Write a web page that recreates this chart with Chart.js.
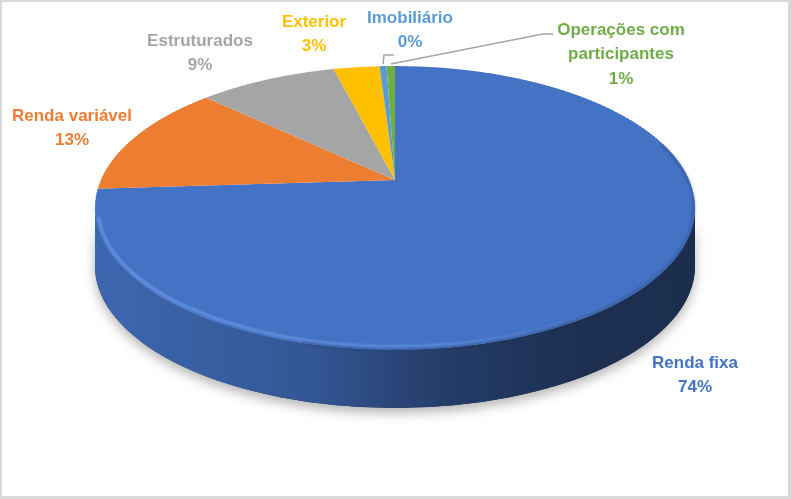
<!DOCTYPE html>
<html>
<head>
<meta charset="utf-8">
<script src="https://cdn.jsdelivr.net/npm/chart.js@4.4.1/dist/chart.umd.min.js"></script>
<style>
  html, body { margin: 0; padding: 0; background: #fff; }
  #wrap { position: relative; width: 791px; height: 499px; }
  #frame { position: absolute; left: 0; top: 0; width: 791px; height: 499px; box-sizing: border-box;
           border: 2px solid #d9d9d9; border-right-width: 3px; border-bottom-width: 3px; pointer-events: none; }
</style>
</head>
<body>
<div id="wrap">
  <canvas id="carteira" width="791" height="499"></canvas>
  <div id="frame"></div>
</div>
<script>
const categorias = ['Renda fixa', 'Renda variável', 'Estruturados', 'Exterior', 'Imobiliário', 'Operações com participantes'];
const valores = [74, 13, 9, 3, 0.45, 0.55];
const cores = ['#4472c4', '#ed7d31', '#a5a5a5', '#ffc000', '#5b9bd5', '#70ad47'];

// disco 3D (px na tela): contorno elíptico, centro do disco puxado para cima pela perspectiva
const disco = { cx: 395, cy: 208, rx: 300, ry: 142, desloc: 28, altura: 58 };
// posição dos rótulos (centro da 1a linha) e cotovelo das guias
const rotulos = [
  { x: 695, y: 363 },
  { x: 72, y: 116 },
  { x: 200, y: 41 },
  { x: 314, y: 22 },
  { x: 410, y: 18, guia: [[384, 55], [394, 55]] },
  { x: 621, y: 30, guia: [[543, 34], [553, 34]] }
];

// perspectiva: (u,v) do círculo unitário -> tela
const persp = (() => {
  const B = disco.ry, k = -disco.desloc / disco.ry, C = B * k;
  const A = disco.rx * Math.sqrt(1 - k * k);
  return {
    A, B, C, k,
    ponto(t) {
      const u = Math.cos(t), v = Math.sin(t), w = 1 + k * v;
      return [disco.cx + A * u / w, disco.cy + (B * v + C) / w];
    },
    vDeY(yr) { return (C - yr) / (yr * k - B); }
  };
})();

function anguloTela(t) {
  const p = persp.ponto(t);
  return Math.atan2((p[1] - disco.cy) / disco.ry, (p[0] - disco.cx) / disco.rx);
}

function escurecer(hex, f) {
  const n = parseInt(hex.slice(1), 16);
  const r = Math.round(((n >> 16) & 255) * f);
  const g = Math.round(((n >> 8) & 255) * f);
  const b = Math.round((n & 255) * f);
  return 'rgb(' + r + ',' + g + ',' + b + ')';
}

function quebrar(ctx, texto, largura) {
  const palavras = texto.split(' ');
  const linhas = [];
  let atual = '';
  palavras.forEach(p => {
    const teste = atual ? atual + ' ' + p : p;
    if (atual && ctx.measureText(teste).width > largura) {
      linhas.push(atual);
      atual = p;
    } else {
      atual = teste;
    }
  });
  linhas.push(atual);
  return linhas;
}

const pizza3d = {
  id: 'pizza3d',
  beforeDatasetsDraw(chart) {
    const ctx = chart.ctx;
    const arcos = chart.getDatasetMeta(0).data;
    const { x, y, outerRadius: r } = arcos[0];
    const { cx, cy, rx, ry, altura } = disco;

    // sombra da parede lateral
    ctx.save();
    ctx.shadowColor = 'rgba(0,0,0,0.3)';
    ctx.shadowBlur = 12;
    ctx.shadowOffsetY = 5;
    ctx.beginPath();
    ctx.ellipse(cx, cy, rx, ry, 0, 0, Math.PI);
    ctx.ellipse(cx, cy + altura, rx, ry, 0, Math.PI, 0, true);
    ctx.closePath();
    ctx.fillStyle = '#1b2b4d';
    ctx.fill();
    ctx.restore();

    // parede lateral, só a metade da frente aparece
    arcos.forEach((a, i) => {
      let s = anguloTela(a.startAngle), e = anguloTela(a.endAngle);
      while (e <= s) e += 2 * Math.PI;
      const c = cores[i];
      [-2 * Math.PI, 0, 2 * Math.PI].forEach(off => {
        const s1 = Math.max(s, off), e1 = Math.min(e, off + Math.PI);
        if (e1 <= s1) return;
        const grad = ctx.createLinearGradient(cx - rx, 0, cx + rx, 0);
        grad.addColorStop(0, escurecer(c, 0.9));
        grad.addColorStop(0.35, escurecer(c, 0.76));
        grad.addColorStop(0.6, escurecer(c, 0.52));
        grad.addColorStop(0.8, escurecer(c, 0.42));
        grad.addColorStop(1, escurecer(c, 0.4));
        ctx.beginPath();
        ctx.ellipse(cx, cy, rx, ry, 0, s1 - off, e1 - off);
        ctx.ellipse(cx, cy + altura, rx, ry, 0, e1 - off, s1 - off, true);
        ctx.closePath();
        ctx.fillStyle = grad;
        ctx.fill();
      });
    });

    // face de cima: as fatias do Chart.js desenhadas em faixas horizontais,
    // cada faixa com a escala local da perspectiva
    const passo = 2;
    for (let y0 = -ry; y0 < ry; y0 += passo) {
      const y1 = Math.min(y0 + passo, ry);
      const v0 = persp.vDeY(y0), v1 = persp.vDeY(y1);
      const vm = (v0 + v1) / 2;
      const su = persp.A / (1 + persp.k * vm);
      const sv = (y1 - y0) / (v1 - v0);
      ctx.save();
      ctx.beginPath();
      ctx.rect(0, cy + y0, chart.width, y1 - y0);
      ctx.clip();
      ctx.translate(cx, cy + y0 - v0 * sv);
      ctx.scale(su / r, sv / r);
      ctx.translate(-x, -y);
      arcos.forEach(a => a.draw(ctx));
      ctx.restore();
    }
    return false;
  },
  afterDraw(chart) {
    const ctx = chart.ctx;
    const { cx, cy, rx, ry } = disco;

    // chanfro escuro na borda e brilho logo acima dele
    ctx.save();
    ctx.beginPath();
    ctx.ellipse(cx, cy, rx - 1, ry - 1, 0, -0.15 * Math.PI, 0.6 * Math.PI);
    ctx.strokeStyle = 'rgba(20,35,70,0.35)';
    ctx.lineWidth = 2;
    ctx.filter = 'blur(1.5px)';
    ctx.stroke();
    ctx.restore();

    ctx.save();
    const brilho = ctx.createLinearGradient(cx - rx, 0, cx + rx * 0.8, 0);
    brilho.addColorStop(0, 'rgba(120,168,245,0.85)');
    brilho.addColorStop(0.6, 'rgba(120,168,245,0.7)');
    brilho.addColorStop(1, 'rgba(120,168,245,0)');
    ctx.beginPath();
    ctx.ellipse(cx, cy, rx - 3, ry - 3.5, 0, 0.02 * Math.PI, 0.98 * Math.PI);
    ctx.strokeStyle = brilho;
    ctx.lineWidth = 2;
    ctx.filter = 'blur(1px)';
    ctx.stroke();
    ctx.restore();

    const arcos = chart.getDatasetMeta(0).data;
    const total = valores.reduce((a, b) => a + b, 0);
    ctx.save();
    ctx.font = 'bold 17px "Liberation Sans", Arial, sans-serif';
    ctx.textAlign = 'center';
    ctx.textBaseline = 'middle';
    rotulos.forEach((p, i) => {
      const linhas = quebrar(ctx, categorias[i], 140);
      linhas.push(Math.round(valores[i] / total * 100) + '%');
      ctx.fillStyle = cores[i];
      linhas.forEach((t, k) => ctx.fillText(t, p.x, p.y + k * 24.5));
      if (p.guia) {
        const m = (arcos[i].startAngle + arcos[i].endAngle) / 2;
        const q0 = persp.ponto(m);
        ctx.beginPath();
        ctx.moveTo(q0[0], q0[1] - 2);
        p.guia.forEach(q => ctx.lineTo(q[0], q[1]));
        ctx.strokeStyle = '#a6a6a6';
        ctx.lineWidth = 1.5;
        ctx.stroke();
      }
    });
    ctx.restore();
  }
};

new Chart(document.getElementById('carteira'), {
  type: 'pie',
  data: {
    labels: categorias,
    datasets: [{
      data: valores,
      backgroundColor: cores,
      borderWidth: 0,
      clip: false
    }]
  },
  options: {
    responsive: false,
    animation: false,
    events: [],
    layout: { padding: 0 },
    plugins: {
      legend: { display: false },
      tooltip: { enabled: false }
    }
  },
  plugins: [pizza3d]
});
</script>
</body>
</html>
